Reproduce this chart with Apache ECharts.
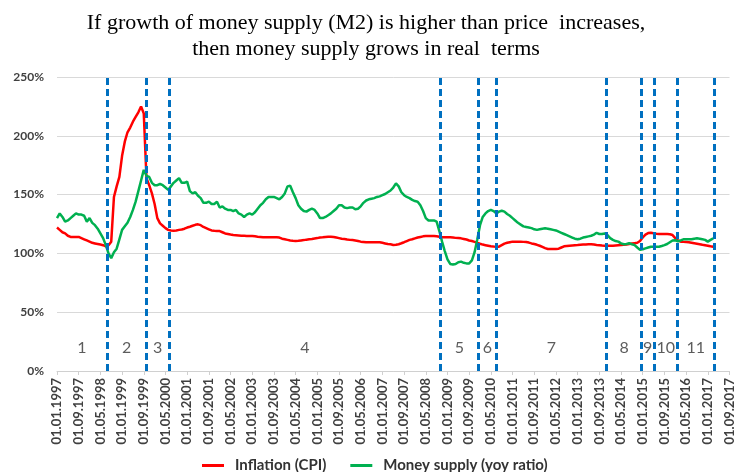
<!DOCTYPE html>
<html>
<head>
<meta charset="utf-8">
<script src="https://cdn.jsdelivr.net/npm/echarts@6/dist/echarts.min.js"></script>
<style>
html, body { margin: 0; padding: 0; background: #fff; }
#main { width: 736px; height: 472px; }
</style>
</head>
<body>
<div id="main"></div>
<script>
// monthly, index 0 = 01.1997
const cpi = [
  122, 120, 118, 117, 115, 114, 114, 114, 114, 113, 112, 111,
  110, 109, 108.5, 108, 107.5, 107, 106, 107, 110, 148, 157, 165,
  183, 195, 203, 207, 212, 216, 220, 225, 219, 164, 158, 151,
  142, 130, 125.5, 123.5, 121.5, 120, 119.5, 119.3, 119.5, 120, 120.3, 121,
  122, 122.7, 123.5, 124.3, 124.7, 124, 122.5, 121.5, 120.5, 119.5, 119.2, 119,
  119, 118, 117, 116.5, 116, 115.6, 115.4, 115.2, 115, 115, 114.9, 114.8,
  114.8, 114.5, 114.2, 114, 113.8, 113.7, 113.7, 113.7, 113.7, 113.7, 113.5, 112.5,
  112, 111.5, 111, 110.7, 110.5, 110.7, 111, 111.3, 111.7, 112, 112.3, 112.7,
  113, 113.5, 113.7, 114, 114.2, 114.2, 114, 113.5, 113, 112.5, 112.2, 111.8,
  111.5, 111.3, 111, 110.5, 110, 109.7, 109.4, 109.4, 109.4, 109.4, 109.4, 109.4,
  109, 108.5, 108, 107.7, 107.2, 107.3, 107.8, 108.6, 109.5, 110.5, 111.5, 112,
  112.8, 113.5, 114, 114.5, 114.8, 114.8, 114.8, 114.8, 114.5, 114.2, 113.7, 113.7,
  113.7, 113.7, 113.5, 113.2, 113, 112.8, 112.3, 111.8, 111, 110.5, 109.8, 109,
  108.2, 107.5, 107, 106.5, 106, 105.8, 105.7, 105.7, 107, 108.3, 109, 109.5,
  110, 110, 110, 110, 109.8, 109.7, 109.2, 108.5, 108, 107.3, 106.5, 105.5,
  104.5, 103.8, 103.7, 103.7, 103.7, 104, 105, 106, 106.3, 106.6, 106.8, 107,
  107.1, 107.3, 107.5, 107.6, 107.7, 107.7, 107.5, 107.2, 107, 106.7, 106.5, 106.5,
  106.5, 106.6, 106.8, 107, 107.2, 107.4, 107.6, 108, 108.4, 108.7, 109, 110.5,
  113.5, 116, 117.3, 117.6, 117.2, 116.8, 116.5, 116.5, 116.5, 116.5, 116.3, 115.6,
  113, 111, 110, 109.8, 109.6, 109.4, 109, 108.6, 108.2, 107.8, 107.3, 106.9,
  106.5, 106, 105.7
];

const m2 = [
  130, 134, 131, 127, 128, 130, 132, 134, 133, 133, 132, 127,
  130, 126, 124, 121, 117, 113, 107, 100, 96, 101, 104, 112,
  120, 123, 126, 131, 137, 144, 153, 162, 171, 166, 165, 160,
  158, 158, 159, 158, 156, 154, 157, 160, 162, 164, 160, 160,
  161, 153, 151, 152, 149, 147, 143, 143, 144, 142, 142, 144,
  139, 140, 138, 137, 137, 136, 137, 134, 133, 131, 133, 134,
  133, 135, 138, 141, 143, 146, 148, 148, 148, 147, 146, 148,
  151, 157, 157.5, 152, 147, 141, 138, 136, 135.5, 137, 138, 137,
  134, 130, 130, 131, 132.5, 134, 136, 138, 141, 141, 139, 138.5,
  139, 139, 137.5, 138, 140, 143, 145, 146, 146.5, 147, 148, 148.5,
  149.5, 150.5, 152, 153.5, 156, 159.5, 157, 152, 149.5, 148, 147, 145.5,
  144.5, 144, 141, 136, 130, 128, 128, 128, 127, 119, 110, 102,
  95, 91, 90.5, 91, 92.5, 93, 92, 91.5, 91.5, 94, 101, 112,
  124, 131, 134, 136, 137, 136, 134, 135.5, 136.3, 135.5, 133.5, 132,
  130, 128, 126, 124.5, 123, 122.5, 122, 121.5, 120.5, 120, 120.5, 121,
  121.3, 121, 120.5, 120, 119.5, 118.5, 117.5, 116.5, 115.5, 114.5, 113.5, 112.5,
  112, 112.5, 113.5, 114, 114.5, 115, 116, 117.5, 116.5, 116.5, 117, 115.5,
  113, 111.5, 110.5, 110, 108.5, 107.8, 108, 108.6, 107.8, 107.1, 105, 103,
  103.5, 104.3, 105, 105.7, 105.7, 105.7, 105.7, 106.3, 107, 108, 109.5, 111,
  111.2, 110.3, 111, 112, 112, 112, 112, 112.5, 112.8, 112.5, 112, 111.5,
  110, 111.5, 112.8
];

// one label every 8 months
const tickLabels = [
  '01.01.1997', '01.09.1997', '01.05.1998', '01.01.1999', '01.09.1999', '01.05.2000',
  '01.01.2001', '01.09.2001', '01.05.2002', '01.01.2003', '01.09.2003', '01.05.2004',
  '01.01.2005', '01.09.2005', '01.05.2006', '01.01.2007', '01.09.2007', '01.05.2008',
  '01.01.2009', '01.09.2009', '01.05.2010', '01.01.2011', '01.09.2011', '01.05.2012',
  '01.01.2013', '01.09.2013', '01.05.2014', '01.01.2015', '01.09.2015', '01.05.2016',
  '01.01.2017', '01.09.2017'
];

// period borders, in months from 01.1997
const dividers = [18.4, 32.9, 41.4, 141.4, 155.4, 162, 202.7, 215.5, 220.1, 228.9, 242.2];
const periodNames = ['1', '2', '3', '4', '5', '6', '7', '8', '9', '10', '11'];

let chart = echarts.init(document.getElementById('main'));

let toPairs = arr => arr.map((v, i) => [i, v]);
let bounds = [0].concat(dividers);
let periodData = periodNames.map((n, i) => [(bounds[i] + bounds[i + 1]) / 2, 20]);

let option = {
    animation: false,
    title: {
        text: 'If growth of money supply (M2) is higher than price  increases,\nthen money supply grows in real  terms',
        left: 361,
        top: 5,
        textAlign: 'center',
        textStyle: {
            fontFamily: 'Liberation Serif',
            fontSize: 22,
            fontWeight: 'normal',
            color: '#000',
            lineHeight: 26
        }
    },
    legend: {
        data: ['Inflation (CPI)', 'Money supply (yoy ratio)'],
        left: 197,
        top: 453,
        icon: 'rect',
        itemWidth: 22,
        itemHeight: 3,
        itemGap: 24,
        textStyle: { fontFamily: 'Lato', fontSize: 15, fontWeight: 'bold', color: '#333', padding: [0, 0, 0, 6] }
    },
    grid: { left: 57, right: 2, top: 77, bottom: 101 },
    xAxis: {
        type: 'value',
        min: 0,
        max: 248,
        interval: 8,
        splitLine: { show: false },
        axisLine: { lineStyle: { color: '#d0d0d0' } },
        axisTick: { length: 4, lineStyle: { color: '#d0d0d0' } },
        axisLabel: {
            rotate: 90,
            margin: 7,
            showMinLabel: true,
            showMaxLabel: true,
            hideOverlap: false,
            fontFamily: 'Lato',
            fontSize: 13,
            fontWeight: 'bold',
            color: '#404040',
            formatter: v => tickLabels[Math.round(v / 8)]
        }
    },
    yAxis: {
        type: 'value',
        min: 0,
        max: 250,
        interval: 50,
        axisLine: { show: false },
        axisTick: { show: false },
        splitLine: { lineStyle: { color: '#d9d9d9', width: 1 } },
        axisLabel: {
            margin: 13,
            fontFamily: 'Lato',
            fontSize: 12,
            fontWeight: 'bold',
            color: '#404040',
            formatter: '{value}%'
        }
    },
    series: [
        {
            name: 'Inflation (CPI)',
            type: 'line',
            data: toPairs(cpi),
            showSymbol: false,
            lineStyle: { color: '#ff0000', width: 2.5 },
            itemStyle: { color: '#ff0000' }
        },
        {
            name: 'Money supply (yoy ratio)',
            type: 'line',
            data: toPairs(m2),
            showSymbol: false,
            lineStyle: { color: '#00b050', width: 2.5 },
            itemStyle: { color: '#00b050' }
        },
        {
            name: 'periods',
            type: 'scatter',
            data: periodData,
            symbolSize: 1,
            itemStyle: { color: 'rgba(0,0,0,0)' },
            silent: true,
            label: {
                show: true,
                position: 'inside',
                fontFamily: 'Lato',
                fontSize: 16,
                color: '#333',
                formatter: p => periodNames[p.dataIndex]
            },
            markLine: {
                silent: true,
                symbol: ['none', 'none'],
                label: { show: false },
                lineStyle: { color: '#0070c0', width: 3, type: [7, 4] },
                data: dividers.map(d => ({ xAxis: d }))
            }
        }
    ]
};

chart.setOption(option);
</script>
</body>
</html>
